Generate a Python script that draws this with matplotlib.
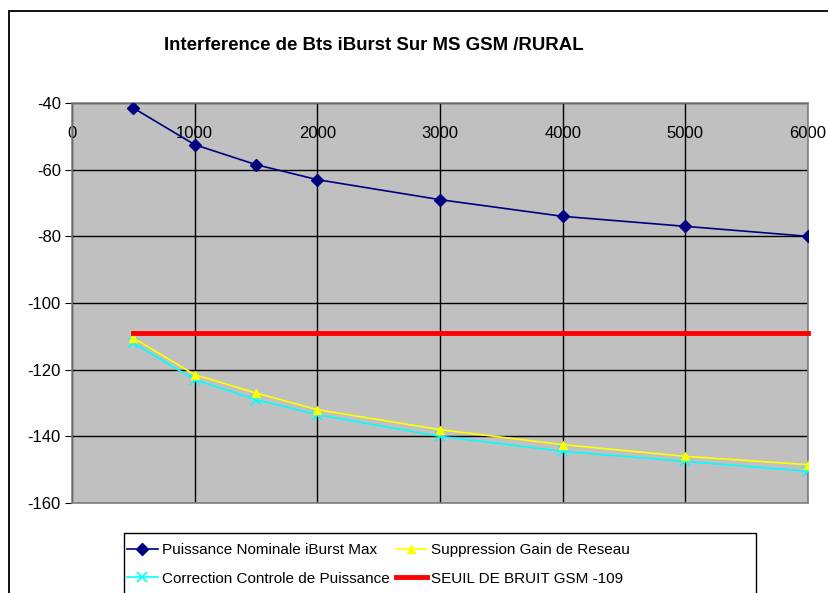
import numpy as np
import matplotlib.pyplot as plt
from matplotlib.patches import Rectangle

#--------Data--------#
distance = [500, 1000, 1500, 2000, 3000, 4000, 5000, 6000]
puissance_nominale = [-41.5, -52.5, -58.5, -63, -69, -74, -77, -80]
suppression_gain = [-110.5, -121.5, -127, -132, -138, -142.5, -146, -148.5]
correction_controle = [-112, -123, -129, -133.5, -140, -144.5, -147.5, -150.5]
seuil_bruit = [-109, -109, -109, -109, -109, -109, -109, -109]
x_ticks = [0, 1000, 2000, 3000, 4000, 5000, 6000]
y_ticks = [-40, -60, -80, -100, -120, -140, -160]
#--------------------#

plt.rcParams['font.family'] = ['Liberation Sans', 'DejaVu Sans']
plt.rcParams['axes.unicode_minus'] = False

fig = plt.figure(figsize=(8.29, 5.93), dpi=100)
W, H = 829, 593
ax = fig.add_axes([72 / W, 1 - 503 / H, (808 - 72) / W, 400 / H])

# outer chart frame (cropped on right/bottom)
fig.patches.append(Rectangle((9 / W, -0.1), 1.2, 1 - 11 / H + 0.1,
                             transform=fig.transFigure, fill=False,
                             edgecolor='black', lw=1.3))
# legend box (cropped at bottom)
fig.patches.append(Rectangle((124 / W, -0.1), (756 - 124) / W, 1 - 533 / H + 0.1,
                             transform=fig.transFigure, fill=False,
                             edgecolor='black', lw=1))

ax.set_facecolor('#C0C0C0')
for s in ax.spines.values():
    s.set_color('#808080')
    s.set_linewidth(1.2)

l1, = ax.plot(distance, puissance_nominale, color='#000080', marker='D', ms=6,
              lw=1.2, label='Puissance Nominale iBurst Max', zorder=4)
l2, = ax.plot(distance, suppression_gain, color='#FFFF00', marker='^', ms=6,
              lw=1.2, label='Suppression Gain de Reseau', zorder=4)
l3, = ax.plot(distance, correction_controle, color='#00FFFF', marker='x', ms=7,
              mew=1.2, lw=1.2, label='Correction Controle de Puissance', zorder=3)
l4, = ax.plot(distance, seuil_bruit, color='#FF0000', lw=3.5,
              solid_capstyle='projecting', label='SEUIL DE BRUIT GSM -109',
              zorder=5, clip_on=False)

ax.set_xlim(0, 6000)
ax.set_ylim(-160, -40)
ax.set_xticks(x_ticks)
ax.set_yticks(y_ticks)
ax.grid(True, color='black', lw=1)
ax.set_axisbelow(True)

ax.tick_params(axis='x', bottom=False, labelbottom=False, top=False,
               labeltop=True, pad=-31, labelsize=12)
ax.tick_params(axis='y', direction='out', length=5, labelsize=12, pad=3)

fig.text(374 / W, 1 - 45 / H, 'Interference de Bts iBurst Sur MS GSM /RURAL',
         ha='center', va='center', fontsize=13.4, fontweight='bold')

# column-wise fill -> reorder so rows read like the original
leg = fig.legend([l1, l3, l2, l4], [l.get_label() for l in (l1, l3, l2, l4)],
                 loc='upper left', bbox_to_anchor=(127 / W, 1 - 543 / H),
                 ncol=2, fontsize=11, frameon=False,
                 handlelength=2.0, columnspacing=0.4,
                 borderaxespad=0, labelspacing=0.95, handletextpad=0.3,
                 borderpad=0)

fig.savefig('out.png', dpi=100)
